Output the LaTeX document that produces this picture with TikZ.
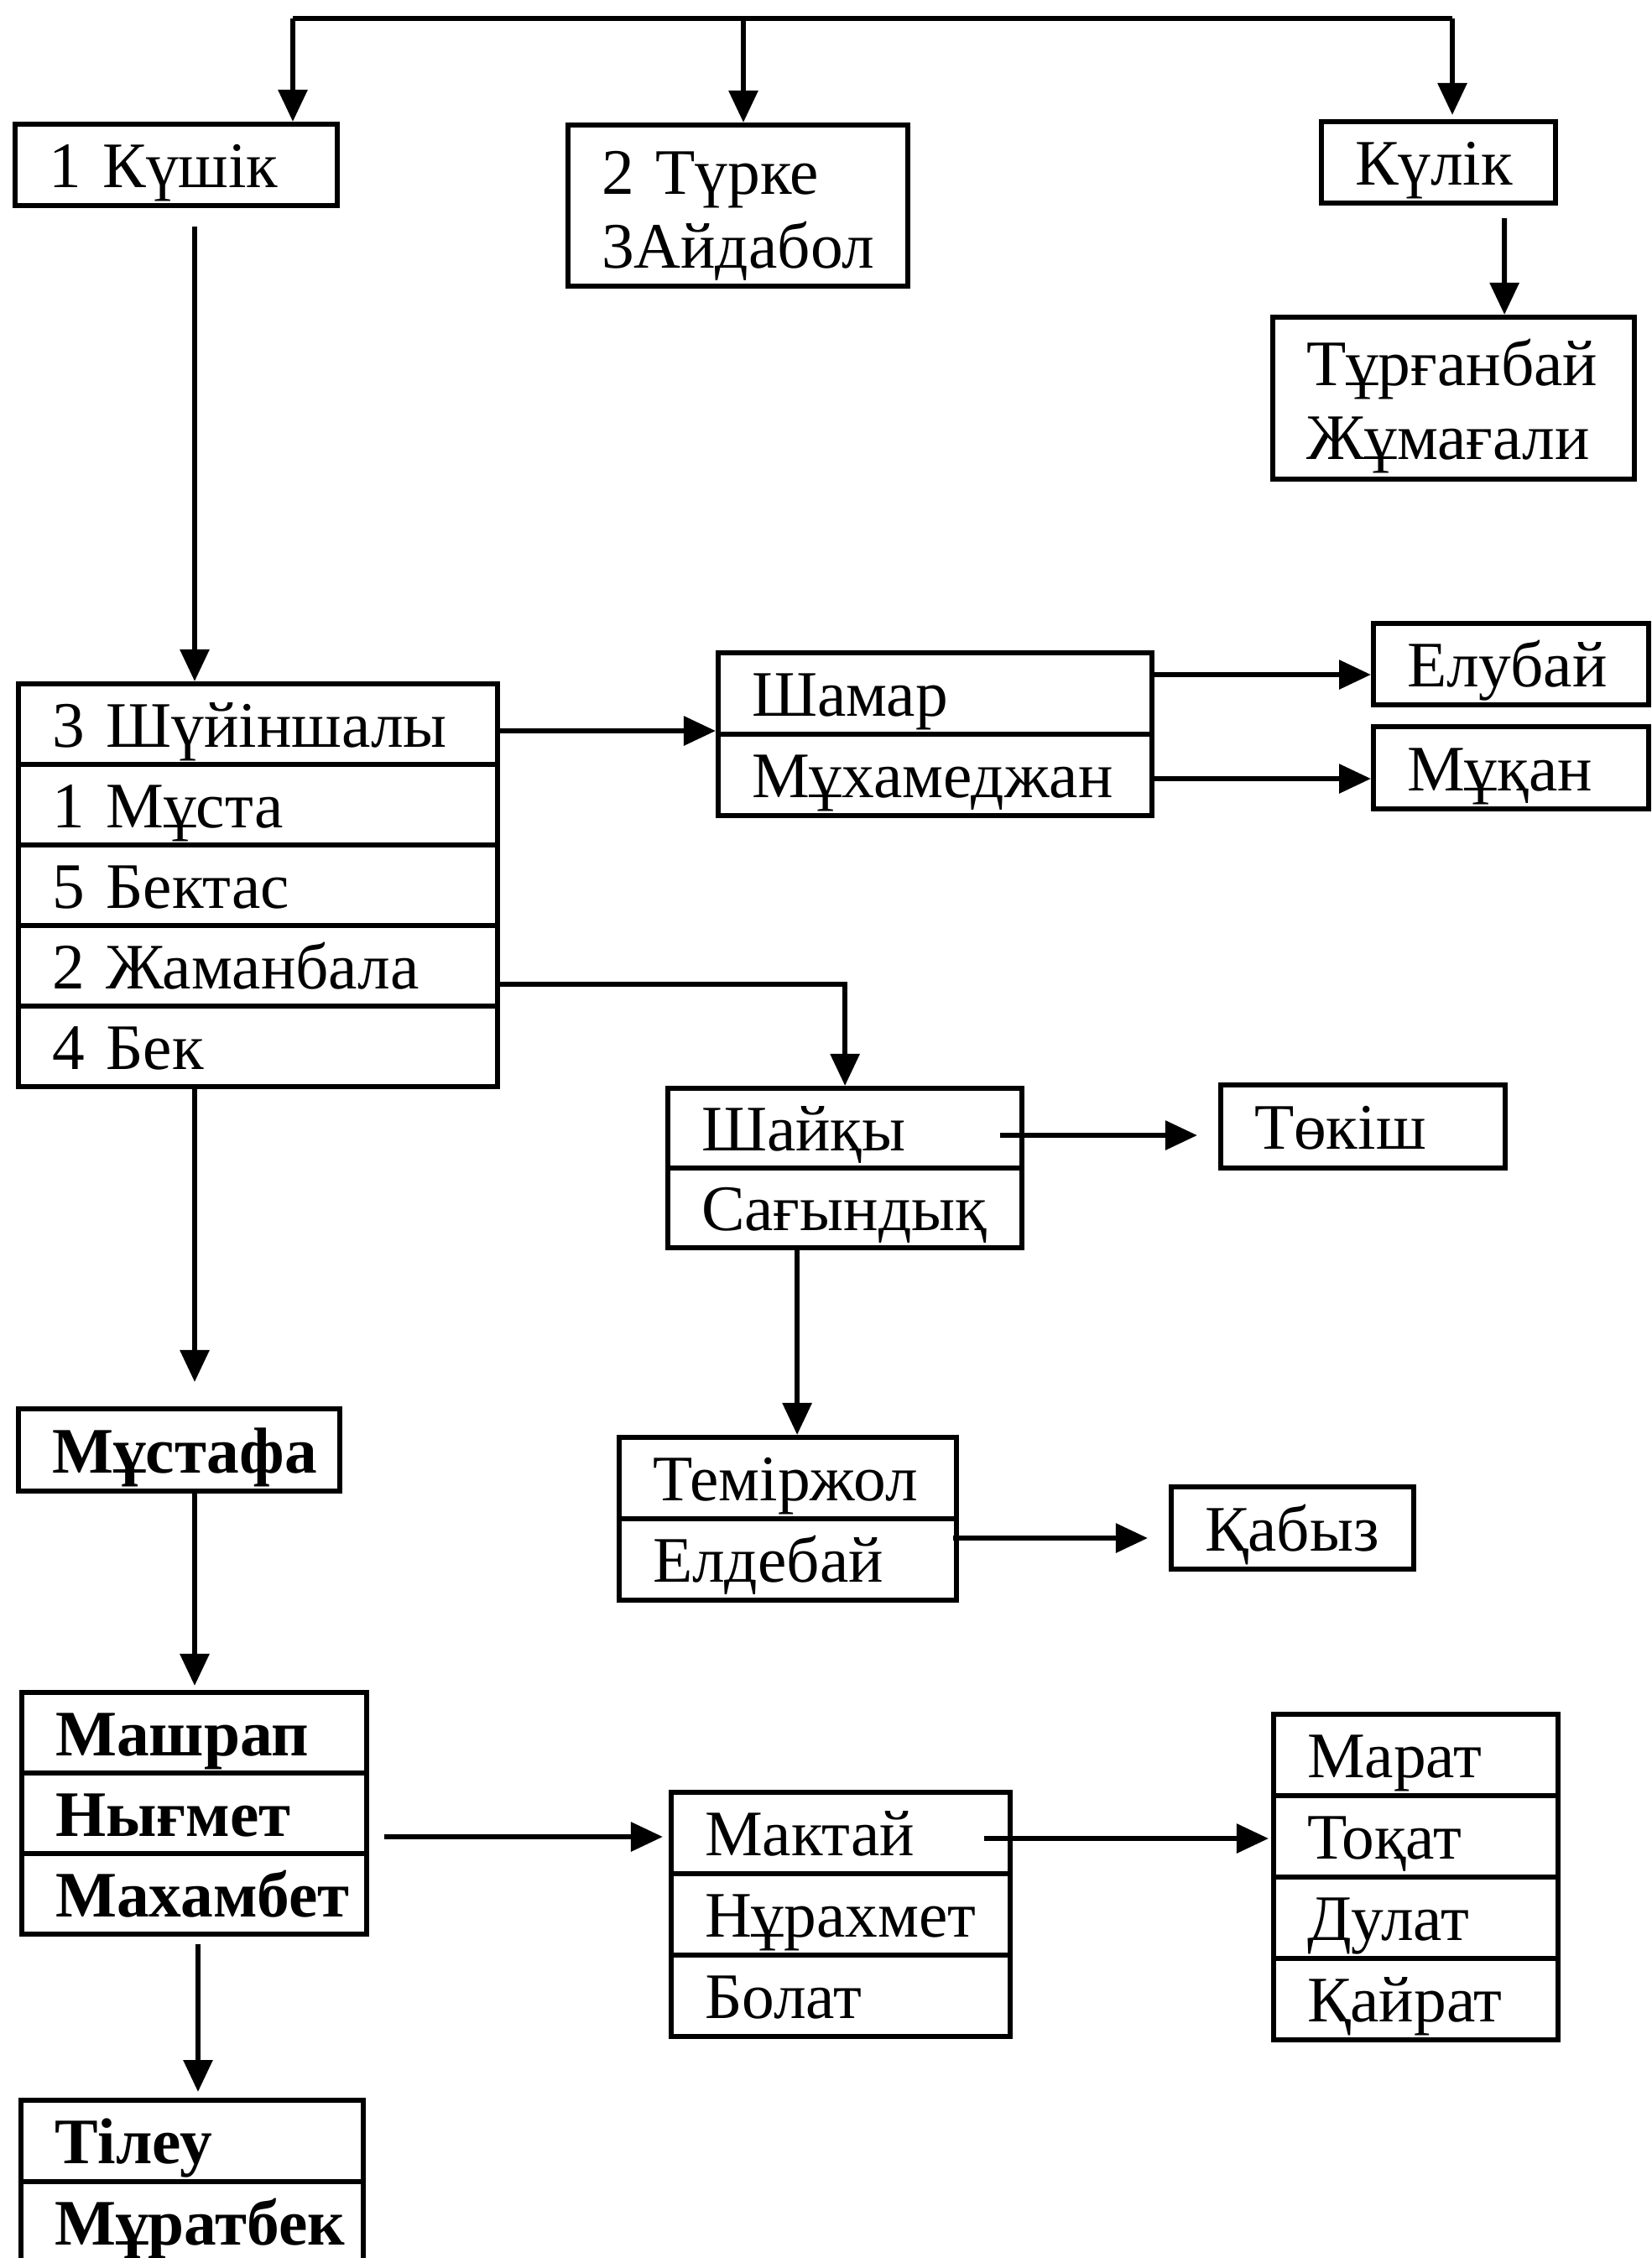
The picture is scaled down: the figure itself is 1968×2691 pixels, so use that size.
\documentclass[tikz,border=0pt]{standalone}
\usepackage{fontspec}
\setmainfont{Liberation Serif}
\usetikzlibrary{arrows.meta,calc}
\begin{document}
\begin{tikzpicture}[x=0.01cm,y=-0.01cm,
  ln/.style={line width=1.7pt},
  cell/.style={draw, line width=1.7pt, rectangle, anchor=north west, inner xsep=0.4cm, inner ysep=0pt, align=left, text height=0.62cm, text depth=0.08cm, font=\fontsize{22}{25}\selectfont},
  cell2/.style={draw, line width=1.7pt, rectangle, anchor=north west, inner xsep=0.4cm, inner ysep=0pt, align=left, font=\fontsize{22}{25}\selectfont},
  bcell/.style={cell, font=\fontsize{22}{25}\selectfont\bfseries},
  arr/.style={line width=1.7pt, -{Triangle[length=0.38cm,width=0.34cm]}}
]
\fill[white] (0,0) rectangle (1968,2691);
\useasboundingbox (0,0) rectangle (1968,2691);

% top row
\node[cell, text width=3.04cm, minimum height=0.97cm] (kushik) at (15,145) {1~Күшік};
\node[cell2, text width=3.25cm, minimum height=1.92cm] (turke) at (674,146) {\rule{0pt}{0.75cm}2~Түрке\\3Айдабол};
\node[cell, text width=1.99cm, minimum height=0.97cm] (kulik) at (1572,142) {Күлік};
\node[cell2, text width=3.51cm, minimum height=1.93cm] (turgan) at (1514,375) {\rule{0pt}{0.75cm}Тұрғанбай\\Жұмағали};

% stack
\node[cell, text width=4.91cm, minimum height=0.96cm] (s1) at (19,812) {3~Шүйіншалы};
\node[cell, text width=4.91cm, minimum height=0.96cm] (s2) at (19,908) {1~Мұста};
\node[cell, text width=4.91cm, minimum height=0.96cm] (s3) at (19,1004) {5~Бектас};
\node[cell, text width=4.91cm, minimum height=0.96cm] (s4) at (19,1100) {2~Жаманбала};
\node[cell, text width=4.91cm, minimum height=0.96cm] (s5) at (19,1196) {4~Бек};

% Shamar
\node[cell, text width=4.37cm, minimum height=0.97cm] (sh1) at (853,775) {Шамар};
\node[cell, text width=4.37cm, minimum height=0.97cm] (sh2) at (853,872) {Мұхамеджан};
\node[cell, text width=2.48cm, minimum height=0.97cm] (elu) at (1634,740) {Елубай};
\node[cell, text width=2.48cm, minimum height=0.98cm] (mukan) at (1634,863) {Мұқан};

% Shaiky
\node[cell, text width=3.42cm, minimum height=0.95cm] (shai1) at (793,1294) {Шайқы};
\node[cell, text width=3.42cm, minimum height=0.95cm] (shai2) at (793,1389) {Сағындық};
\node[cell, text width=2.59cm, minimum height=0.99cm] (tokish) at (1452,1290) {Төкіш};

% Temirzhol
\node[cell, text width=3.22cm, minimum height=0.97cm] (tem1) at (735,1710) {Теміржол};
\node[cell, text width=3.22cm, minimum height=0.97cm] (tem2) at (735,1807) {Елдебай};
\node[cell, text width=2.09cm, minimum height=0.98cm] (kabyz) at (1393,1769) {Қабыз};

% Mustafa
\node[bcell, text width=3.03cm, minimum height=0.98cm] (must) at (19,1676) {Мұстафа};

% Mashrap
\node[bcell, text width=3.31cm, minimum height=0.96cm] (m1) at (23,2014) {Машрап};
\node[bcell, text width=3.31cm, minimum height=0.96cm] (m2) at (23,2110) {Нығмет};
\node[bcell, text width=3.31cm, minimum height=0.96cm] (m3) at (23,2206) {Махамбет};

% Maktai
\node[cell, text width=3.24cm, minimum height=0.97cm] (k1) at (797,2133) {Мактай};
\node[cell, text width=3.24cm, minimum height=0.97cm] (k2) at (797,2230) {Нұрахмет};
\node[cell, text width=3.24cm, minimum height=0.97cm] (k3) at (797,2327) {Болат};

% Marat
\node[cell, text width=2.59cm, minimum height=0.97cm] (r1) at (1515,2040) {Марат};
\node[cell, text width=2.59cm, minimum height=0.97cm] (r2) at (1515,2137) {Тоқат};
\node[cell, text width=2.59cm, minimum height=0.97cm] (r3) at (1515,2234) {Дулат};
\node[cell, text width=2.59cm, minimum height=0.97cm] (r4) at (1515,2331) {Қайрат};

% Tileu
\node[bcell, text width=3.28cm, minimum height=0.97cm] (t1) at (22,2500) {Тілеу};
\node[bcell, text width=3.28cm, minimum height=0.97cm] (t2) at (22,2597) {Мұратбек};

% connectors
\coordinate (tl) at (349,22);
\coordinate (tm) at (886,22);
\coordinate (tr) at (1731,22);
\draw[ln] (tl) -- (tr);
\draw[arr] (tl) -- (tl |- kushik.north);
\draw[arr] (tm) -- (tm |- turke.north);
\draw[arr] (tr) -- ($(tr |- kulik.north)+(0,-5)$);
\draw[arr] ($(kulik.south)+(78.5,15)$) -- ($(turgan.north)+(60.5,0)$);

\coordinate (trunk) at (232,0);
\coordinate (trunk2) at (236,0);
\draw[arr] ($(kushik.south -| trunk)+(0,22)$) -- (s1.north -| trunk);
\draw[arr] ($(s1.east)+(0,8)$) -- ($(s1.east -| sh1.west)+(0,8)$);
\draw[arr] ($(sh1.east)+(0,-22.5)$) -- ($(sh1.east -| elu.west)+(0,-22.5)$);
\draw[arr] ($(sh2.east)+(0,4.5)$) -- ($(sh2.east -| mukan.west)+(0,4.5)$);
\draw[arr] ($(s4.east)+(0,22)$) -| (shai1.north);
\draw[arr, shorten >=0.25cm] ($(shai1.east)+(-29,8.5)$) -- ($(shai1.east -| tokish.west)+(0,8.5)$);
\draw[arr] ($(shai2.south -| tem1.north)+(11,0)$) -- ($(tem1.north)+(11,0)$);
\draw[arr, shorten >=0.25cm] ($(tem2.east |- kabyz.west)+(-7,12)$) -- ($(kabyz.west)+(0,12)$);
\draw[arr, shorten >=0.29cm] (s5.south -| trunk) -- (must.north -| trunk);
\draw[arr, shorten >=0.05cm] (must.south -| trunk) -- (m1.north -| trunk);
\draw[arr, shorten <=0.18cm, shorten >=0.07cm] ($(m2.east |- k1.west)+(0,4.5)$) -- ($(k1.west)+(0,4.5)$);
\draw[arr] ($(k1.east |- r2.west)+(-34,2.5)$) -- ($(r2.west)+(-3,2.5)$);
\draw[arr, shorten >=0.07cm] ($(m3.south -| trunk2)+(0,9)$) -- (t1.north -| trunk2);
\end{tikzpicture}
\end{document}
